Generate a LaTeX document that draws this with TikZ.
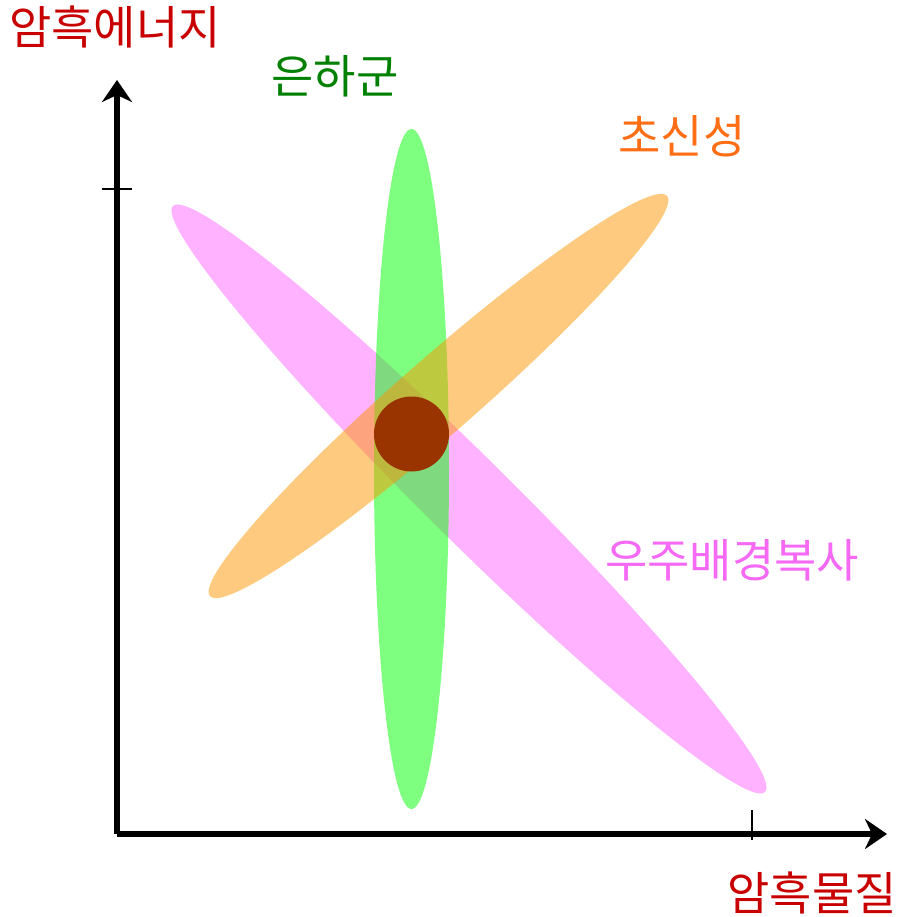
\documentclass[tikz,border=0pt]{standalone}
\usepackage{fontspec}
\newfontfamily\kr{Noto Sans CJK KR}
\usetikzlibrary{arrows.meta}
\definecolor{darkred}{RGB}{200,0,0}
\definecolor{lbgreen}{RGB}{0,128,0}
\definecolor{lborange}{RGB}{255,110,20}
\definecolor{lbpink}{RGB}{245,105,245}
\definecolor{core}{RGB}{153,51,0}
\definecolor{fillpink}{RGB}{255,0,255}
\definecolor{fillgreen}{RGB}{0,255,0}
\definecolor{fillorange}{RGB}{252,150,0}
\tikzset{
  axis/.style={line width=5.5pt,-{Stealth[length=22pt,width=30pt,inset=7pt]}},
  tickmark/.style={line width=1.8pt},
  lbl/.style={font=\kr\fontsize{46pt}{48pt}\selectfont, inner sep=0pt}
}
\begin{document}
\begin{tikzpicture}[x=1pt,y=1pt]
\useasboundingbox (0,0) rectangle (900,-917);
% ellipses
\fill[fillpink,opacity=0.3,rotate around={-44.7:(469,-499)}] (469,-499) ellipse [x radius=416.5pt, y radius=42pt];
\fill[fillgreen,opacity=0.5] (411.5,-469) ellipse [x radius=37.5pt, y radius=340pt];
\fill[fillorange,opacity=0.5,rotate around={41.2:(438.5,-396)}] (438.5,-396) ellipse [x radius=303.7pt, y radius=38pt];
\node[circle,fill=core,minimum size=75pt,inner sep=0pt] (core) at (411.5,-434) {};
% axes
\coordinate (O) at (117,-834);
\coordinate (Ytop) at (117,-80);
\coordinate (Xend) at (887,-834);
\draw[axis] (O) -- (Ytop);
\draw[axis] (O) -- (Xend);
\coordinate (yt1) at (102,-189);
\coordinate (yt2) at (132,-189);
\coordinate (xt1) at (752,-810);
\coordinate (xt2) at (752,-840);
\draw[tickmark] (yt1) -- (yt2);
\draw[tickmark] (xt1) -- (xt2);
% labels
\node[lbl,text=darkred] (de) at (115,-27) {암흑에너지};
\node[lbl,text=darkred] (dm) at (812,-893) {암흑물질};
\node[lbl,text=lbgreen] (gal) at (335,-76) {은하군};
\node[lbl,text=lborange] (sn) at (682,-136) {초신성};
\node[lbl,text=lbpink] (cmb) at (732,-560) {우주배경복사};
\end{tikzpicture}
\end{document}
